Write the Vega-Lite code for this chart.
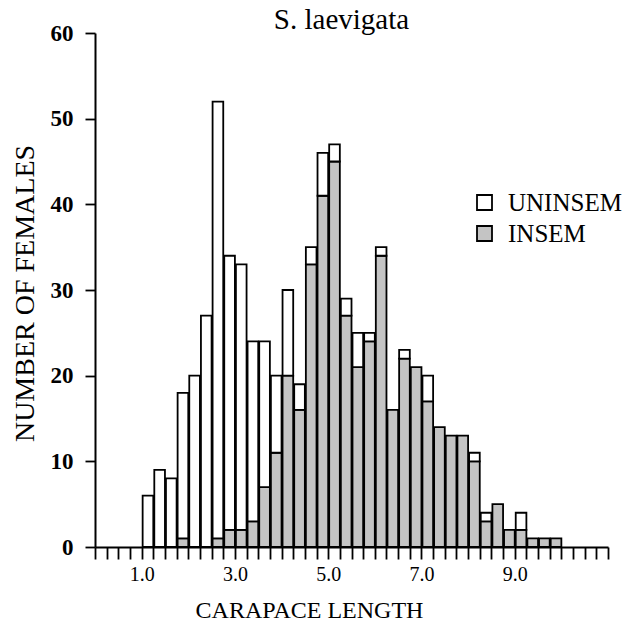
{
  "$schema": "https://vega.github.io/schema/vega-lite/v6.json",
  "autosize": {"type": "none"},
  "padding": {"left": 95, "top": 33, "right": 23, "bottom": 74},
  "width": 513,
  "height": 514,
  "background": "white",
  "title": {
    "text": "S. laevigata",
    "font": "Liberation Serif",
    "fontSize": 29,
    "fontWeight": "normal",
    "color": "black",
    "anchor": "middle",
    "baseline": "alphabetic",
    "offset": 0,
    "dx": -10,
    "dy": 36
  },
  "data": {
    "values": [
      {"lo": 1.0, "hi": 1.25, "status": "UNINSEM", "n": 6},
      {"lo": 1.25, "hi": 1.5, "status": "UNINSEM", "n": 9},
      {"lo": 1.5, "hi": 1.75, "status": "UNINSEM", "n": 8},
      {"lo": 1.75, "hi": 2.0, "status": "INSEM", "n": 1},
      {"lo": 1.75, "hi": 2.0, "status": "UNINSEM", "n": 17},
      {"lo": 2.0, "hi": 2.25, "status": "UNINSEM", "n": 20},
      {"lo": 2.25, "hi": 2.5, "status": "UNINSEM", "n": 27},
      {"lo": 2.5, "hi": 2.75, "status": "INSEM", "n": 1},
      {"lo": 2.5, "hi": 2.75, "status": "UNINSEM", "n": 51},
      {"lo": 2.75, "hi": 3.0, "status": "INSEM", "n": 2},
      {"lo": 2.75, "hi": 3.0, "status": "UNINSEM", "n": 32},
      {"lo": 3.0, "hi": 3.25, "status": "INSEM", "n": 2},
      {"lo": 3.0, "hi": 3.25, "status": "UNINSEM", "n": 31},
      {"lo": 3.25, "hi": 3.5, "status": "INSEM", "n": 3},
      {"lo": 3.25, "hi": 3.5, "status": "UNINSEM", "n": 21},
      {"lo": 3.5, "hi": 3.75, "status": "INSEM", "n": 7},
      {"lo": 3.5, "hi": 3.75, "status": "UNINSEM", "n": 17},
      {"lo": 3.75, "hi": 4.0, "status": "INSEM", "n": 11},
      {"lo": 3.75, "hi": 4.0, "status": "UNINSEM", "n": 9},
      {"lo": 4.0, "hi": 4.25, "status": "INSEM", "n": 20},
      {"lo": 4.0, "hi": 4.25, "status": "UNINSEM", "n": 10},
      {"lo": 4.25, "hi": 4.5, "status": "INSEM", "n": 16},
      {"lo": 4.25, "hi": 4.5, "status": "UNINSEM", "n": 3},
      {"lo": 4.5, "hi": 4.75, "status": "INSEM", "n": 33},
      {"lo": 4.5, "hi": 4.75, "status": "UNINSEM", "n": 2},
      {"lo": 4.75, "hi": 5.0, "status": "INSEM", "n": 41},
      {"lo": 4.75, "hi": 5.0, "status": "UNINSEM", "n": 5},
      {"lo": 5.0, "hi": 5.25, "status": "INSEM", "n": 45},
      {"lo": 5.0, "hi": 5.25, "status": "UNINSEM", "n": 2},
      {"lo": 5.25, "hi": 5.5, "status": "INSEM", "n": 27},
      {"lo": 5.25, "hi": 5.5, "status": "UNINSEM", "n": 2},
      {"lo": 5.5, "hi": 5.75, "status": "INSEM", "n": 21},
      {"lo": 5.5, "hi": 5.75, "status": "UNINSEM", "n": 4},
      {"lo": 5.75, "hi": 6.0, "status": "INSEM", "n": 24},
      {"lo": 5.75, "hi": 6.0, "status": "UNINSEM", "n": 1},
      {"lo": 6.0, "hi": 6.25, "status": "INSEM", "n": 34},
      {"lo": 6.0, "hi": 6.25, "status": "UNINSEM", "n": 1},
      {"lo": 6.25, "hi": 6.5, "status": "INSEM", "n": 16},
      {"lo": 6.5, "hi": 6.75, "status": "INSEM", "n": 22},
      {"lo": 6.5, "hi": 6.75, "status": "UNINSEM", "n": 1},
      {"lo": 6.75, "hi": 7.0, "status": "INSEM", "n": 21},
      {"lo": 7.0, "hi": 7.25, "status": "INSEM", "n": 17},
      {"lo": 7.0, "hi": 7.25, "status": "UNINSEM", "n": 3},
      {"lo": 7.25, "hi": 7.5, "status": "INSEM", "n": 14},
      {"lo": 7.5, "hi": 7.75, "status": "INSEM", "n": 13},
      {"lo": 7.75, "hi": 8.0, "status": "INSEM", "n": 13},
      {"lo": 8.0, "hi": 8.25, "status": "INSEM", "n": 10},
      {"lo": 8.0, "hi": 8.25, "status": "UNINSEM", "n": 1},
      {"lo": 8.25, "hi": 8.5, "status": "INSEM", "n": 3},
      {"lo": 8.25, "hi": 8.5, "status": "UNINSEM", "n": 1},
      {"lo": 8.5, "hi": 8.75, "status": "INSEM", "n": 5},
      {"lo": 8.75, "hi": 9.0, "status": "INSEM", "n": 2},
      {"lo": 9.0, "hi": 9.25, "status": "INSEM", "n": 2},
      {"lo": 9.0, "hi": 9.25, "status": "UNINSEM", "n": 2},
      {"lo": 9.25, "hi": 9.5, "status": "INSEM", "n": 1},
      {"lo": 9.5, "hi": 9.75, "status": "INSEM", "n": 1},
      {"lo": 9.75, "hi": 10.0, "status": "INSEM", "n": 1}
    ]
  },
  "mark": {"type": "bar", "stroke": "black", "strokeWidth": 1.8, "opacity": 1},
  "encoding": {
    "x": {
      "field": "lo",
      "type": "quantitative",
      "bin": {"binned": true, "step": 0.25},
      "scale": {"domain": [0, 11], "nice": false, "zero": false},
      "axis": {
        "title": "CARAPACE LENGTH",
        "values": [0, 0.25, 0.5, 0.75, 1, 1.25, 1.5, 1.75, 2, 2.25, 2.5, 2.75, 3, 3.25, 3.5, 3.75, 4, 4.25, 4.5, 4.75, 5, 5.25, 5.5, 5.75, 6, 6.25, 6.5, 6.75, 7, 7.25, 7.5, 7.75, 8, 8.25, 8.5, 8.75, 9, 9.25, 9.5, 9.75, 10, 10.25, 10.5, 10.75, 11],
        "labelExpr": "indexof([1, 3, 5, 7, 9], datum.value) >= 0 ? format(datum.value, '.1f') : ''",
        "labelOverlap": false,
        "labelFlush": false,
        "grid": false,
        "tickSize": 12,
        "tickWidth": 1.8,
        "tickColor": "black",
        "domainColor": "black",
        "domainWidth": 2,
        "labelFont": "Liberation Serif",
        "labelFontSize": 20,
        "labelColor": "black",
        "labelPadding": 5,
        "titleFont": "Liberation Serif",
        "titleFontSize": 24,
        "titleFontWeight": "normal",
        "titleColor": "black",
        "titleX": 214,
        "titleY": 70,
        "titleAlign": "center",
        "titleBaseline": "alphabetic"
      }
    },
    "x2": {"field": "hi"},
    "y": {
      "field": "n",
      "type": "quantitative",
      "stack": "zero",
      "scale": {"domain": [0, 60], "nice": false},
      "axis": {
        "title": "NUMBER OF FEMALES",
        "values": [0, 10, 20, 30, 40, 50, 60],
        "grid": false,
        "tickSize": 10,
        "tickWidth": 1.8,
        "tickColor": "black",
        "domainColor": "black",
        "domainWidth": 2,
        "labelFont": "Liberation Serif",
        "labelFontSize": 23,
        "labelFontWeight": "bold",
        "labelColor": "black",
        "labelPadding": 12,
        "titleFont": "Liberation Serif",
        "titleFontSize": 28,
        "titleFontWeight": "normal",
        "titleColor": "black",
        "titleAngle": -90,
        "titleX": -62,
        "titleY": 260,
        "titleAlign": "center",
        "titleBaseline": "alphabetic"
      }
    },
    "fill": {
      "field": "status",
      "type": "nominal",
      "scale": {"domain": ["UNINSEM", "INSEM"], "range": ["white", "#c4c4c4"]},
      "legend": {
        "title": null,
        "orient": "none",
        "legendX": 377,
        "legendY": 157,
        "symbolType": "square",
        "symbolSize": 225,
        "symbolStrokeColor": "black",
        "symbolStrokeWidth": 1.8,
        "symbolOpacity": 1,
        "labelFont": "Liberation Serif",
        "labelFontSize": 25,
        "labelColor": "black",
        "labelOffset": 11,
        "rowPadding": 5,
        "padding": 0
      }
    },
    "order": {"field": "status", "sort": "ascending"}
  },
  "config": {
    "view": {"stroke": null},
    "axis": {"ticks": true}
  }
}
